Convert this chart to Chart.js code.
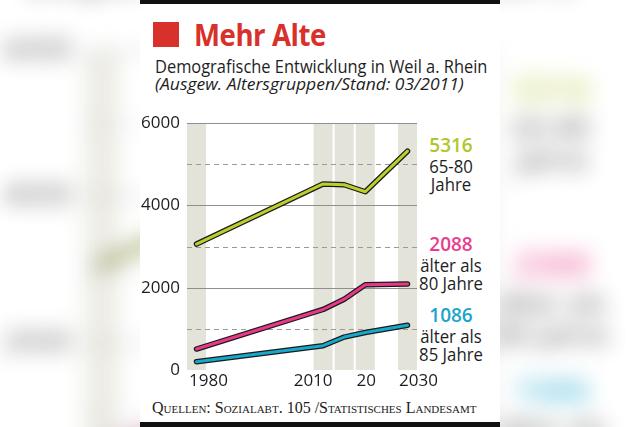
<!DOCTYPE html>
<html>
<head>
<meta charset="utf-8">
<script src="https://cdn.jsdelivr.net/npm/chart.js@4.4.1/dist/chart.umd.min.js"></script>
<style>
  html, body { margin:0; padding:0; background:#fff; width:640px; height:427px; overflow:hidden; }
  .layer { position:absolute; left:0; top:0; width:640px; height:427px; }
  #bg { transform-origin:320px 217px; transform:scale(1.77); filter:blur(6px); opacity:.7; }
  #panel { position:absolute; left:140px; top:0; width:360px; height:427px; background:#fff; }
  .t { position:absolute; white-space:nowrap; font-family:"Open Sans", sans-serif; color:#1e1e1e; line-height:1; transform-origin:0 0; }
  .bar { position:absolute; left:140px; width:360px; background:#111; }
  .sq { position:absolute; left:153px; top:22px; width:26px; height:25px; background:#d8302a; }
  .title { left:194px; top:19px; font-size:31px; font-weight:700; color:#d8302a; letter-spacing:-0.5px; transform:scaleX(0.89); }
  .sub { left:155px; top:57px; font-size:18px; transform:scaleX(0.912); }
  .ital { left:155px; top:75px; font-size:17px; font-style:italic; transform:scaleX(1.03); }
  .lab { width:80px; left:411px; text-align:center; font-size:18px; transform-origin:50% 0; transform:scaleX(0.93); }
  .num { font-size:19px; font-weight:600; transform:none; }
  .src { left:152px; top:400px; font-family:"Liberation Serif", serif; font-variant:small-caps; font-size:16px; color:#222; }
  canvas { position:absolute; left:0; top:0; }
</style>
</head>
<body>
<div id="bg" class="layer"></div>
<div id="panel"></div>
<div id="fg" class="layer"></div>
<script>
// ---- data ----
const years = [1980, 2010, 2015, 2020, 2030];
const age65to80 = [3060, 4520, 4500, 4330, 5316];
const over80 = [510, 1470, 1720, 2070, 2088];
const over85 = [200, 590, 800, 910, 1086];
const yTickValues = [0, 2000, 4000, 6000];
const xTickYears = [1980, 2010, 2020, 2030];
const xTickLabels = ['1980', '2010', '20', '2030'];
const seriesNames = [['65-80', 'Jahre'], ['älter als', '80 Jahre'], ['älter als', '85 Jahre']];

// ---- styles ----
const colors = ['#bccf2c', '#e8388a', '#18a8c9'];
const textColors = ['#b2c62c', '#e83d8c', '#1aa5cc'];
const xLabelOffsets = [12, -10, 1, 11];
const numTops = [136, 235, 306];

function build(root) {
  let html = '<div class="bar" style="top:0;height:4px"></div>' +
    '<div class="bar" style="top:422px;height:5px"></div>' +
    '<div class="sq"></div>' +
    '<div class="t title">Mehr Alte</div>' +
    '<div class="t sub">Demografische Entwicklung in Weil a. Rhein</div>' +
    '<div class="t ital">(Ausgew. Altersgruppen/Stand: 03/2011)</div>' +
    '<div class="t src">Quellen: Sozialabt. 105 /Statistisches Landesamt</div>';
  const all = [age65to80, over80, over85];
  all.forEach((s, i) => {
    const top = numTops[i];
    html += '<div class="t lab num" style="top:' + top + 'px;color:' + textColors[i] + '">' + s[s.length - 1] + '</div>';
    html += '<div class="t lab" style="top:' + (top + 21) + 'px">' + seriesNames[i][0] + '</div>';
    html += '<div class="t lab" style="top:' + (top + 39) + 'px">' + seriesNames[i][1] + '</div>';
  });
  root.innerHTML = html;
  const cv = document.createElement('canvas');
  cv.width = 640; cv.height = 427;
  cv.style.width = '640px'; cv.style.height = '427px';
  root.appendChild(cv);

  const bgPlugin = {
    id: 'bands',
    beforeDatasetsDraw(chart) {
      const { ctx, chartArea, scales } = chart;
      const x = scales.x, y = scales.y;
      ctx.save();
      ctx.fillStyle = '#e4e3d9';
      years.forEach(yr => {
        const l = x.getPixelForValue(yr - 2.25), r = x.getPixelForValue(yr + 2.25);
        ctx.fillRect(l, chartArea.top, r - l, chartArea.bottom - chartArea.top);
      });
      for (let v = 1000; v <= 6000; v += 1000) {
        const py = Math.round(y.getPixelForValue(v)) + 0.5;
        ctx.beginPath();
        ctx.lineWidth = 1;
        if (v % 2000 === 0) { ctx.setLineDash([]); ctx.strokeStyle = '#8f8f8f'; }
        else { ctx.setLineDash([5, 4]); ctx.strokeStyle = '#9a9a9a'; }
        ctx.moveTo(chartArea.left, py);
        ctx.lineTo(chartArea.right, py);
        ctx.stroke();
      }
      ctx.setLineDash([]);
      ctx.fillStyle = '#1e1e1e';
      ctx.font = '17px "Open Sans"';
      ctx.textAlign = 'center';
      ctx.textBaseline = 'alphabetic';
      xTickYears.forEach((yr, i) => {
        ctx.fillText(xTickLabels[i], x.getPixelForValue(yr) + xLabelOffsets[i], chartArea.bottom + 16);
      });
      ctx.restore();
    }
  };

  const colored = [], outlines = [];
  all.forEach((s, i) => {
    const pts = () => years.map((yr, k) => ({ x: yr, y: s[k] }));
    colored.push({ data: pts(), borderColor: colors[i], borderWidth: 3, pointRadius: 0, borderCapStyle: 'round', borderJoinStyle: 'round', tension: 0 });
    outlines.push({ data: pts(), borderColor: '#1a1a1a', borderWidth: 5.5, pointRadius: 0, borderCapStyle: 'round', borderJoinStyle: 'round', tension: 0 });
  });
  const datasets = colored.concat(outlines);

  new Chart(cv, {
    type: 'line',
    data: { datasets },
    plugins: [bgPlugin],
    options: {
      responsive: false,
      animation: false,
      events: [],
      layout: { padding: { left: 140, right: 223, top: 123, bottom: 57 } },
      plugins: { legend: { display: false }, tooltip: { enabled: false } },
      scales: {
        x: { type: 'linear', min: 1977.75, max: 2032.25, display: false },
        y: {
          min: 0, max: 6000,
          afterBuildTicks: sc => { sc.ticks = yTickValues.map(v => ({ value: v })); },
          afterFit: sc => { sc.width = 47; },
          grid: { display: false, drawTicks: false },
          border: { display: false },
          ticks: { padding: 7, color: '#1e1e1e', font: { family: 'Open Sans', size: 17 }, callback: v => String(v) }
        }
      }
    }
  });
}
build(document.getElementById('bg'));
build(document.getElementById('fg'));
</script>
</body>
</html>
